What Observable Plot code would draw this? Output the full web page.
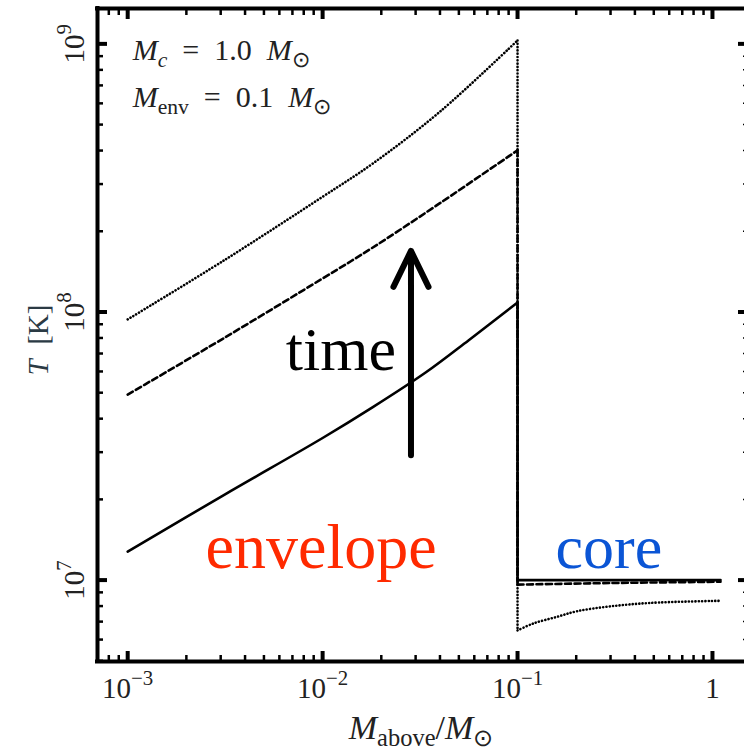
<!DOCTYPE html>
<html><head><meta charset="utf-8">
<script src="https://cdn.jsdelivr.net/npm/d3@7"></script>
<script src="https://cdn.jsdelivr.net/npm/@observablehq/plot@0.6"></script>
<style>
html,body{margin:0;padding:0;background:#fff;overflow:hidden}
svg text{white-space:pre}
</style></head><body><div id="chart"></div>
<script>
// ---- data (mass above in Msun, temperature in K) ----
const solidMass  = [0.001, 0.00316, 0.01, 0.0181, 0.0339, 0.0562, 0.1, 0.1, 1.1];
const solidTemp  = [1.276e7, 2.089e7, 3.388e7, 4.416e7, 5.957e7, 7.85e7, 1.084e8, 1.0e7, 1.0e7];
const dashedMass = [0.001, 0.00316, 0.01, 0.0181, 0.0398, 0.1, 0.1, 0.3, 1.1];
const dashedTemp = [4.92e7, 8.04e7, 1.334e8, 1.74e8, 2.54e8, 4.01e8, 9.62e6, 9.75e6, 9.86e6];
const dottedMass = [0.001, 0.00316, 0.01, 0.0181, 0.0398, 0.1, 0.1, 0.1205, 0.158, 0.203, 0.299, 0.481, 1.1];
const dottedTemp = [9.38e7, 1.567e8, 2.69e8, 3.58e8, 5.57e8, 1.03e9, 6.49e6, 6.89e6, 7.28e6, 7.66e6, 7.98e6, 8.22e6, 8.37e6];

// ---- axes ----
const xDomain = [7.0e-4, 1.46];
const yDomain = [4.97e6, 1.355e9];
const xTickValues = [1e-3, 1e-2, 1e-1, 1];
const xTickLabels = ["10^{\u22123}", "10^{\u22122}", "10^{\u22121}", "1"];
const yTickValues = [1e7, 1e8, 1e9];
const yTickLabels = ["10^{7}", "10^{8}", "10^{9}"];
const xAxisLabel = "*M*_{above}/*M*_{\u2299}";
const yAxisLabel = "*T*  [K]";

// ---- annotations ----
const paramLines = ["*M*_{*c*}  =  1.0  *M*_{\u2299}", "*M*_{env}  =  0.1  *M*_{\u2299}"];
const paramMass = [1.06e-3, 1.06e-3];
const paramTemp = [8.67e8, 5.8e8];
const envelopeLabel = {text: "envelope", mass: 2.51e-3, temp: 1.105e7};
const coreLabel = {text: "core", mass: 0.1567, temp: 1.105e7};
const timeLabel = {text: "time", mass: 6.47e-3, temp: 6.05e7};
const timeArrow = {mass: 0.0284, from: 2.92e7, to: 1.69e8};

// minor ticks
function minorTicks([lo, hi]) {
  const out = [];
  for (let e = Math.floor(Math.log10(lo)); e <= Math.ceil(Math.log10(hi)); e++)
    for (let k = 2; k <= 9; k++) { const v = k * 10 ** e; if (v > lo && v < hi) out.push(v); }
  return out;
}
const xMinor = minorTicks(xDomain);
const yMinor = minorTicks(yDomain);

const rows = (m, t) => m.map((x, i) => ({x, y: t[i]}));
// split a profile into envelope part, the jump at the core boundary, and the core part
function parts(m, t) {
  const r = rows(m, t);
  const j = m.findIndex((v, i) => i > 0 && v === m[i - 1]);
  return {env: r.slice(0, j), jump: r.slice(j - 1, j + 1), core: r.slice(j)};
}
const blank = () => "";
const tk = (fn, data, anchor, size, sw) => fn(data, {anchor, tickSize: size, strokeWidth: sw, tickFormat: blank, label: null});
function profile(m, t, style) {
  const p = parts(m, t);
  return [
    Plot.line(p.env, {x: "x", y: "y", curve: "catmull-rom", ...style}),
    Plot.line(p.jump, {x: "x", y: "y", ...style}),
    Plot.line(p.core, {x: "x", y: "y", curve: "catmull-rom", ...style})
  ];
}

const svg = Plot.plot({
  width: 744, height: 751,
  marginLeft: 97, marginRight: 0, marginTop: 8, marginBottom: 90,
  style: {fontFamily: "Liberation Serif", background: "white"},
  x: {type: "log", domain: xDomain, label: null},
  y: {type: "log", domain: yDomain, label: null},
  marks: [
    tk(Plot.axisX, xMinor, "bottom", -6, 2.5),
    tk(Plot.axisX, xTickValues, "bottom", -10, 4),
    tk(Plot.axisX, xMinor, "top", -6, 2.5),
    tk(Plot.axisX, xTickValues, "top", -10, 4),
    tk(Plot.axisY, yMinor, "left", -6, 2.5),
    tk(Plot.axisY, yTickValues, "left", -10, 4),
    tk(Plot.axisY, yMinor, "right", -2, 1.5),
    tk(Plot.axisY, yTickValues, "right", -7, 4),
    Plot.ruleX([xDomain[0]], {strokeWidth: 4, strokeLinecap: "square"}),
    Plot.ruleY(yDomain, {strokeWidth: 4, strokeLinecap: "square"}),
    ...profile(dottedMass, dottedTemp, {stroke: "black", strokeWidth: 2.6, strokeDasharray: "0.1 3.2", strokeLinecap: "round"}),
    ...profile(dashedMass, dashedTemp, {stroke: "black", strokeWidth: 2.6, strokeDasharray: "6 3.5"}),
    ...profile(solidMass, solidTemp, {stroke: "black", strokeWidth: 2.6}),
    Plot.arrow([timeArrow], {x1: "mass", x2: "mass", y1: "from", y2: "to", stroke: "black", strokeWidth: 6, headLength: 10, headAngle: 52, strokeLinecap: "round", strokeLinejoin: "round"}),
    Plot.text([timeLabel], {x: "mass", y: "temp", text: "text", textAnchor: "start", lineAnchor: "bottom", fontSize: 62, fill: "black"}),
    Plot.text([envelopeLabel], {x: "mass", y: "temp", text: "text", textAnchor: "start", lineAnchor: "bottom", fontSize: 64, fill: "#ff2a00"}),
    Plot.text([coreLabel], {x: "mass", y: "temp", text: "text", textAnchor: "start", lineAnchor: "bottom", fontSize: 62, fill: "#0b55d5"}),
    Plot.text(paramLines, {x: (d, i) => paramMass[i], y: (d, i) => paramTemp[i], text: d => d, textAnchor: "start", lineAnchor: "bottom", fontSize: 30, fill: "#222"}),
    Plot.text(xTickValues, {x: d => d, text: (d, i) => xTickLabels[i], frameAnchor: "bottom", dy: 36, lineAnchor: "bottom", fontSize: 29, fill: "#222"}),
    Plot.text(yTickValues, {y: d => d, text: (d, i) => yTickLabels[i], frameAnchor: "left", dx: -14, rotate: -90, textAnchor: "middle", lineAnchor: "bottom", fontSize: 29, fill: "#222"}),
    Plot.text([xAxisLabel], {text: d => d, frameAnchor: "bottom", dy: 77, lineAnchor: "bottom", fontSize: 34, fill: "#222"}),
    Plot.text([yAxisLabel], {text: d => d, frameAnchor: "left", dx: -50, dy: 5, rotate: -90, textAnchor: "middle", lineAnchor: "bottom", fontSize: 29, fill: "#2b3a44"})
  ]
});
document.getElementById("chart").appendChild(svg);

// turn the small markup (*italic*, ^{sup}, _{sub}) into tspans
function richify(el) {
  const src = el.textContent;
  if (!/[\^_*]/.test(src)) return;
  const fs = parseFloat(getComputedStyle(el).fontSize) || 30;
  const segs = [];
  (function parseRun(str, level) {
    let j = 0, italic = false, buf = "";
    const flush = () => { if (buf) segs.push({s: buf, italic, level}); buf = ""; };
    while (j < str.length) {
      const c = str[j];
      if (c === "*") { flush(); italic = !italic; j++; }
      else if ((c === "^" || c === "_") && str[j + 1] === "{") {
        flush();
        const end = str.indexOf("}", j + 2);
        parseRun(str.slice(j + 2, end), c === "^" ? 1 : -1);
        j = end + 1;
      } else { buf += c; j++; }
    }
    flush();
  })(src, 0);
  el.textContent = "";
  let shift = 0;
  for (const seg of segs) {
    const target = seg.level === 0 ? 0 : seg.level > 0 ? -0.42 * fs : 0.22 * fs;
    const t = document.createElementNS("http://www.w3.org/2000/svg", "tspan");
    t.textContent = seg.s;
    if (target !== shift) t.setAttribute("dy", target - shift);
    shift = target;
    t.setAttribute("font-size", seg.level === 0 ? fs : fs * 0.72);
    t.setAttribute("font-style", seg.italic ? "italic" : "normal");
    el.appendChild(t);
  }
}
svg.querySelectorAll("text").forEach(richify);
</script>
</body></html>
